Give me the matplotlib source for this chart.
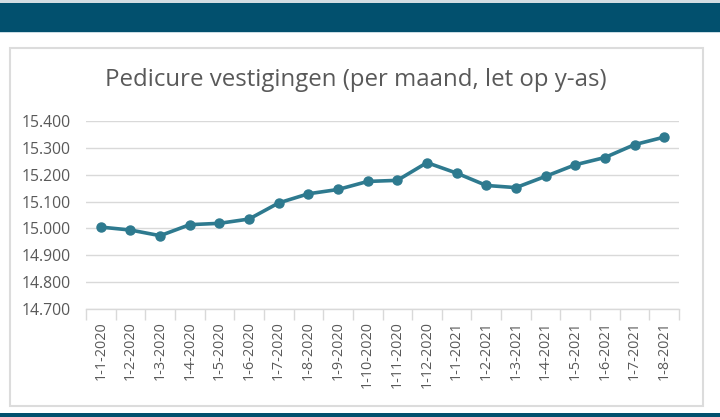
import matplotlib
matplotlib.use("Agg")
import matplotlib.pyplot as plt
from matplotlib.patches import Rectangle
from matplotlib.ticker import FuncFormatter, FixedLocator

categories = ["1-1-2020", "1-2-2020", "1-3-2020", "1-4-2020", "1-5-2020", "1-6-2020",
              "1-7-2020", "1-8-2020", "1-9-2020", "1-10-2020", "1-11-2020", "1-12-2020",
              "1-1-2021", "1-2-2021", "1-3-2021", "1-4-2021", "1-5-2021", "1-6-2021",
              "1-7-2021", "1-8-2021"]
values = [15005, 14994, 14973, 15014, 15019, 15035, 15095, 15129, 15145, 15175,
          15179, 15245, 15206, 15160, 15152, 15194, 15237, 15264, 15312, 15340]
y_ticks = [14700, 14800, 14900, 15000, 15100, 15200, 15300, 15400]
title = "Pedicure vestigingen (per maand, let op y-as)"

W, H = 720, 417
fig = plt.figure(figsize=(W / 100, H / 100), dpi=100)
fig.patch.set_facecolor("white")

# decorative bars and chart frame (figure coordinates)
def px_rect(x0, y0, x1, y1, **kw):
    return Rectangle((x0 / W, 1 - y1 / H), (x1 - x0) / W, (y1 - y0) / H,
                     transform=fig.transFigure, zorder=-10, **kw)

fig.patches.append(px_rect(0, 0, W, 3, facecolor="#D3DDE2", edgecolor="none"))
fig.patches.append(px_rect(0, 3, W, 32, facecolor="#02506E", edgecolor="none"))
fig.patches.append(px_rect(0, 32, W, 33, facecolor="#C9DCE4", edgecolor="none"))
fig.patches.append(px_rect(0, 412.5, W, 417, facecolor="#02506E", edgecolor="none"))
fig.patches.append(px_rect(10, 48, 703, 406, facecolor="white", edgecolor="#DCDCDC", linewidth=1.5))

left, right = 86, 679
top, bottom = 121, 309
ax = fig.add_axes([left / W, 1 - bottom / H, (right - left) / W, (bottom - top) / H])
ax.set_facecolor("none")
ax.set_zorder(5)

x = list(range(len(categories)))
ax.plot(x, values, color="#2E7A8F", linewidth=2.6, marker="o", markersize=6.5,
        solid_capstyle="round", zorder=3)

ax.set_xlim(-0.5, len(categories) - 0.5)
ax.set_ylim(y_ticks[0], y_ticks[-1])
ax.set_yticks(y_ticks)
ax.yaxis.set_major_formatter(FuncFormatter(lambda v, p: f"{v/1000:.3f}"))
ax.grid(axis="y", color="#D9D9D9", linewidth=1.0, zorder=0)
ax.set_axisbelow(True)

for s in ["top", "right", "left"]:
    ax.spines[s].set_visible(False)
ax.spines["bottom"].set_color("#D9D9D9")
ax.spines["bottom"].set_linewidth(1.0)

ax.set_xticks(x)
ax.set_xticklabels(categories, rotation=90, fontsize=10.4, color="#595959",
                   family=["Open Sans", "DejaVu Sans"])
ax.xaxis.set_minor_locator(FixedLocator([i - 0.5 for i in range(len(categories) + 1)]))
ax.tick_params(axis="x", which="major", length=0, pad=9)
ax.tick_params(axis="x", which="minor", length=8, color="#D9D9D9", width=1.0)
ax.tick_params(axis="y", length=0, pad=11, labelsize=11.3, labelcolor="#595959")
for lab in ax.get_yticklabels():
    lab.set_family(["Open Sans", "DejaVu Sans"])

fig.text(356 / W, 1 - 80 / H, title, ha="center", va="center", fontsize=17.3,
         color="#595959", family=["Open Sans", "DejaVu Sans"])

fig.savefig("out.png", dpi=100)
